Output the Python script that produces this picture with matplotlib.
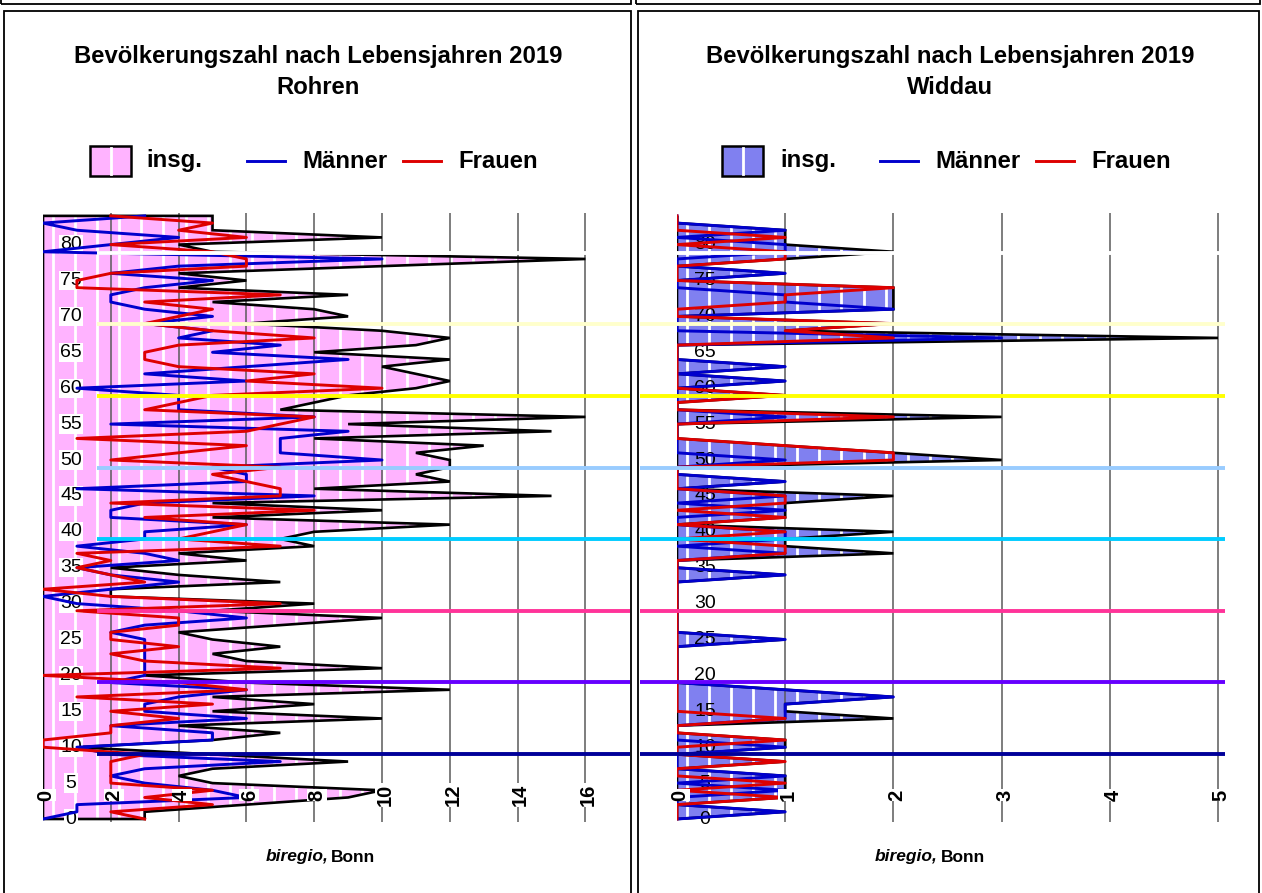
import matplotlib
matplotlib.use('Agg')
import matplotlib.pyplot as plt
from matplotlib.patches import Polygon, Rectangle
from matplotlib.lines import Line2D

plt.rcParams['font.family'] = ['Liberation Sans', 'DejaVu Sans']

W, H = 1262, 893
fig = plt.figure(figsize=(W / 100, H / 100), dpi=100)


def fx(x):
    return x / W


def fy(y):
    return 1 - y / H


# ---------------- data ----------------
ages = list(range(85))
title_text = "Bevölkerungszahl nach Lebensjahren 2019"
places = ["Rohren", "Widdau"]
legend_labels = ["insg.", "Männer", "Frauen"]
source_italic = "biregio,"
source_plain = "Bonn"
ytick_values = [0, 5, 10, 15, 20, 25, 30, 35, 40, 45, 50, 55, 60, 65, 70, 75, 80]
xticks_rohren = [0, 2, 4, 6, 8, 10, 12, 14, 16]
xticks_widdau = [0, 1, 2, 3, 4, 5]
decade_lines = [9.1, 19.1, 29.0, 39.0, 48.9, 58.9, 68.9, 78.8]
decade_colors = ['#000099', '#6600FF', '#FF3399', '#00CCFF', '#99CCFF',
                 '#FFFF00', '#FFFFCC', '#FFFFFF']

# Rohren (ages 0..84)
rohren_maenner = [0, 1, 1, 6, 5, 3, 2, 3, 7, 2,
                  1, 5, 5, 2, 6, 3, 3, 4, 6, 2,
                  3, 3, 3, 3, 3, 3, 2, 3, 6, 4,
                  1, 0, 2, 4, 2, 1, 4, 3, 1, 3,
                  3, 6, 2, 2, 3, 8, 1, 6, 6, 5,
                  10, 7, 7, 7, 9, 2, 8, 4, 4, 4,
                  1, 6, 3, 6, 9, 5, 7, 4, 5, 3,
                  5, 3, 2, 2, 3, 5, 2, 4, 10, 0,
                  2, 4, 1, 0, 3]
rohren_frauen = [3, 2, 5, 3, 5, 2, 2, 2, 2, 3,
                 0, 0, 2, 2, 4, 2, 5, 1, 6, 4,
                 0, 7, 3, 2, 4, 2, 2, 4, 4, 1,
                 7, 2, 0, 3, 2, 1, 2, 1, 7, 4,
                 5, 6, 3, 8, 2, 7, 7, 6, 5, 7,
                 2, 4, 6, 1, 6, 7, 8, 3, 4, 5,
                 10, 6, 8, 4, 3, 3, 4, 8, 5, 3,
                 4, 5, 3, 7, 1, 1, 2, 6, 6, 5,
                 2, 6, 4, 5, 2]
rohren_insg = [3, 3, 6, 9, 10, 5, 4, 5, 9, 5,
               1, 5, 7, 4, 10, 5, 8, 5, 12, 6,
               3, 10, 6, 5, 7, 5, 4, 7, 10, 5,
               8, 2, 2, 7, 4, 2, 6, 4, 8, 7,
               8, 12, 5, 10, 5, 15, 8, 12, 11, 12,
               12, 11, 13, 8, 15, 9, 16, 7, 8, 9,
               11, 12, 11, 10, 12, 8, 11, 12, 10, 6,
               9, 8, 5, 9, 4, 6, 4, 10, 16, 5,
               4, 10, 5, 5, 5]

# Widdau (ages 0..84)
widdau_maenner = [0, 1, 0, 0, 1, 0, 1, 0, 0, 0,
                  1, 0, 0, 0, 1, 1, 1, 2, 1, 0,
                  0, 0, 0, 0, 0, 1, 0, 0, 0, 0,
                  0, 0, 0, 0, 1, 0, 0, 1, 0, 1,
                  1, 0, 0, 1, 0, 1, 0, 1, 0, 0,
                  1, 0, 0, 0, 0, 0, 1, 0, 0, 0,
                  0, 1, 0, 1, 0, 0, 0, 3, 0, 0,
                  0, 2, 1, 1, 0, 0, 1, 0, 0, 1,
                  1, 0, 1, 0, 0]
widdau_frauen = [0, 0, 0, 1, 0, 1, 0, 0, 1, 0,
                 0, 1, 0, 0, 1, 0, 0, 0, 0, 0,
                 0, 0, 0, 0, 0, 0, 0, 0, 0, 0,
                 0, 0, 0, 0, 0, 0, 0, 1, 1, 0,
                 1, 0, 1, 0, 1, 1, 0, 0, 0, 0,
                 2, 2, 1, 0, 0, 0, 2, 0, 0, 1,
                 0, 0, 0, 0, 0, 0, 0, 2, 1, 2,
                 0, 0, 1, 1, 2, 0, 0, 0, 1, 1,
                 0, 1, 0, 0, 0]
widdau_insg = [0, 1, 0, 1, 1, 1, 1, 0, 1, 0,
               1, 1, 0, 0, 2, 1, 1, 2, 1, 0,
               0, 0, 0, 0, 0, 1, 0, 0, 0, 0,
               0, 0, 0, 0, 1, 0, 0, 2, 1, 1,
               2, 0, 1, 1, 1, 2, 0, 1, 0, 0,
               3, 2, 1, 0, 0, 0, 3, 0, 0, 1,
               0, 1, 0, 1, 0, 0, 0, 5, 1, 2,
               0, 2, 2, 2, 2, 0, 1, 0, 1, 2,
               1, 1, 1, 0, 0]

# ---------------- geometry ----------------
Y_TOP, Y_BOT = 213, 822
AGE0_PX, PX_PER_AGE = 819, 7.18


def age_of(ypx):
    return (AGE0_PX - ypx) / PX_PER_AGE


panels = [
    dict(x0=43, x1=630, ppu=33.9, M=rohren_maenner, F=rohren_frauen, T=rohren_insg,
         fill='#FFB3FF', xticks=xticks_rohren, ylab_px=71, ylab_bbox=True,
         hl=(97, 630), stripe0=53, place=places[0], cx=318,
         leg=dict(patch=(90, 131), insg=146, blue=(247, 285), m=302, red=(403, 441), f=458),
         src=(329, 331)),
    dict(x0=677, x1=1226, ppu=108.2, M=widdau_maenner, F=widdau_frauen, T=widdau_insg,
         fill='#8080F0', xticks=xticks_widdau, ylab_px=705, ylab_bbox=False,
         hl=(640, 1225), stripe0=686.7, place=places[1], cx=950,
         leg=dict(patch=(722, 763), insg=780, blue=(880, 918), m=935, red=(1036, 1074), f=1091),
         src=(938, 941)),
]

# ---------------- frames ----------------
frame_kw = dict(transform=fig.transFigure, fill=False, edgecolor='black', lw=1.3)
fig.patches.append(Rectangle((fx(1), fy(3.5)), fx(629.5), 0.2, **frame_kw))
fig.patches.append(Rectangle((fx(636), fy(3.5)), fx(624), 0.2, **frame_kw))
fig.patches.append(Rectangle((fx(4), fy(895)), fx(626.5), fy(11) - fy(895), **frame_kw))
fig.patches.append(Rectangle((fx(637.5), fy(895)), fx(621), fy(11) - fy(895), **frame_kw))

bold = dict(fontweight='bold')
BIG = 17.2

for p in panels:
    ppu = p['ppu']
    xmax = (p['x1'] - p['x0']) / ppu
    ax = fig.add_axes([fx(p['x0']), fy(Y_BOT), (p['x1'] - p['x0']) / W, (Y_BOT - Y_TOP) / H])
    ax.set_xlim(0, xmax)
    ylo, yhi = age_of(Y_BOT), age_of(Y_TOP)
    ax.set_ylim(ylo, yhi)
    ax.axis('off')

    # area of totals
    verts = [(0, ages[0])] + list(zip(p['T'], ages)) + [(0, ages[-1])]
    poly = Polygon(verts, closed=True, facecolor=p['fill'], edgecolor='none', zorder=1)
    ax.add_patch(poly)
    stripes = []
    sx = p['stripe0']
    while sx < p['x1']:
        stripes.append((sx - p['x0']) / ppu)
        sx += 22.1
    lc = ax.vlines(stripes, ylo, yhi, colors='white', lw=2.0, zorder=1.2)
    lc.set_clip_path(poly)

    # grid
    ax.vlines(p['xticks'][1:], ylo, yhi, colors='#5a5a5a', lw=1.1, zorder=2)
    ax.add_patch(Polygon(verts, closed=True, fill=False, edgecolor='black', lw=1.9, zorder=2.2,
                         joinstyle='miter'))

    # y labels
    for v in ytick_values:
        kw = dict(ha='center', va='center', fontsize=14, zorder=2.5)
        if p['ylab_bbox']:
            kw['bbox'] = dict(facecolor='white', edgecolor='none', pad=0.8)
        ax.text((p['ylab_px'] - p['x0']) / ppu, v, str(v), **kw)

    # lines
    ax.plot(p['M'], ages, color='#0000CC', lw=2.1, zorder=3)
    ax.plot(p['F'], ages, color='#DD0000', lw=2.1, zorder=3.1)

    # decade lines
    ax.hlines(decade_lines, (p['hl'][0] - p['x0']) / ppu, (p['hl'][1] - p['x0']) / ppu,
              colors=decade_colors, lw=2.8, zorder=4, clip_on=False)

    # x labels
    for v in p['xticks']:
        ax.text(v + 3 / ppu, age_of(795), str(v), rotation=90, ha='center', va='center',
                fontsize=14.5, zorder=6, bbox=dict(facecolor='white', edgecolor='none', pad=0.3),
                **bold)

    # title
    fig.text(fx(p['cx']), fy(57), title_text, ha='center', va='center', fontsize=BIG, **bold)
    fig.text(fx(p['cx']), fy(87), p['place'], ha='center', va='center', fontsize=BIG, **bold)

    # legend
    lg = p['leg']
    px0, px1 = lg['patch']
    fig.patches.append(Rectangle((fx(px0), fy(176)), (px1 - px0) / W, fy(146) - fy(176),
                                 transform=fig.transFigure, facecolor=p['fill'],
                                 edgecolor='black', lw=1.8))
    mid = (px0 + px1) / 2
    fig.lines.append(Line2D([fx(mid), fx(mid)], [fy(148), fy(174)], transform=fig.transFigure,
                            color='white', lw=2.0))
    fig.text(fx(lg['insg']), fy(161), legend_labels[0], ha='left', va='center', fontsize=BIG, **bold)
    fig.lines.append(Line2D([fx(lg['blue'][0]), fx(lg['blue'][1])], [fy(161), fy(161)],
                            transform=fig.transFigure, color='#0000CC', lw=2.1))
    fig.text(fx(lg['m']), fy(161), legend_labels[1], ha='left', va='center', fontsize=BIG, **bold)
    fig.lines.append(Line2D([fx(lg['red'][0]), fx(lg['red'][1])], [fy(161), fy(161)],
                            transform=fig.transFigure, color='#DD0000', lw=2.1))
    fig.text(fx(lg['f']), fy(161), legend_labels[2], ha='left', va='center', fontsize=BIG, **bold)

    # source
    fig.text(fx(p['src'][0]), fy(857), source_italic, ha='right', va='center', fontsize=12.5,
             fontweight='bold', fontstyle='italic')
    fig.text(fx(p['src'][1]), fy(857), source_plain, ha='left', va='center', fontsize=12.5, **bold)

fig.savefig('out.png', dpi=100)
